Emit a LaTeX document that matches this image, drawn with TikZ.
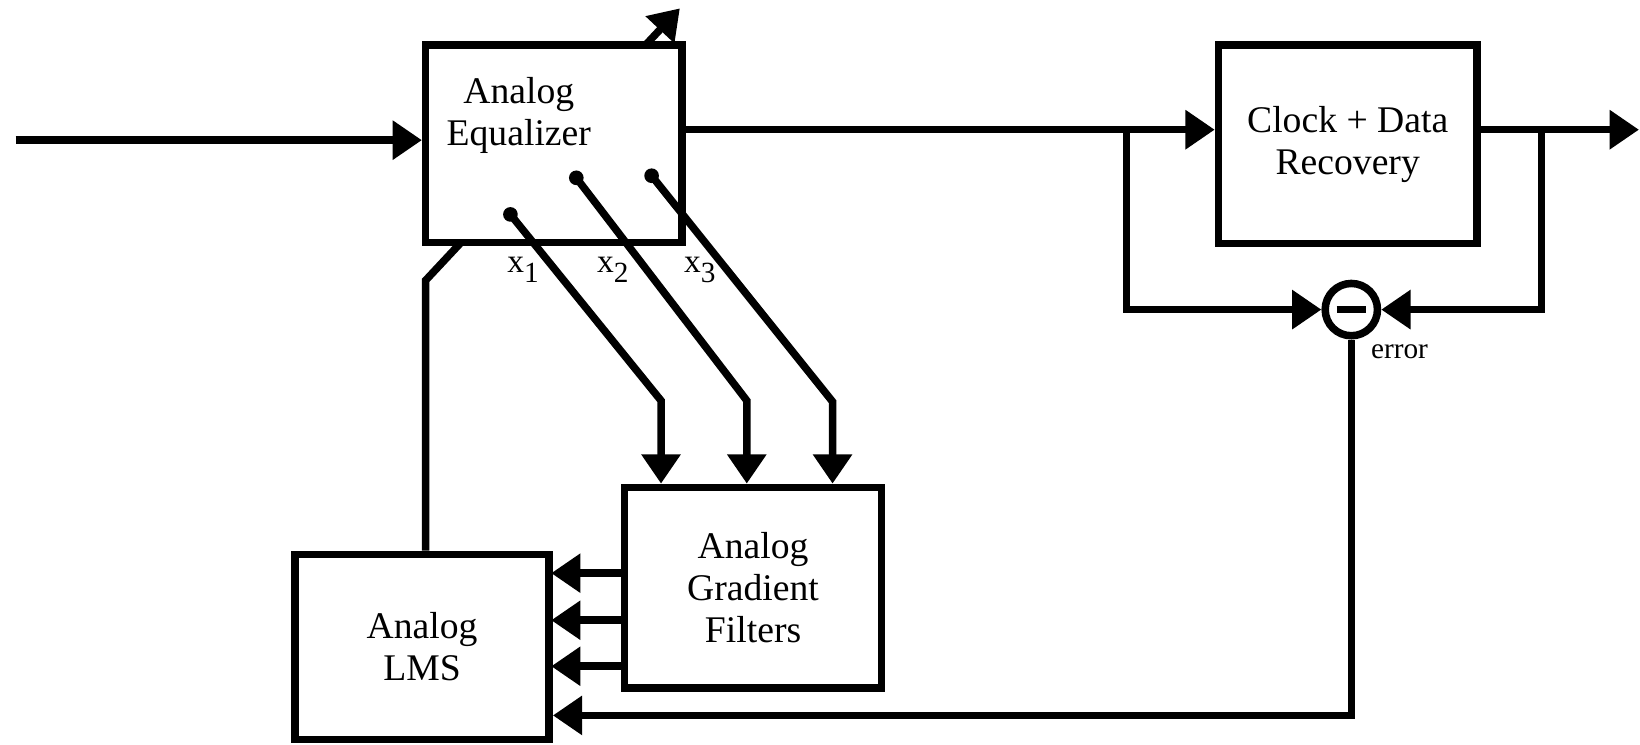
\documentclass[tikz,border=0pt]{standalone}
\usepackage{fontspec}
\setmainfont{Liberation Serif}
\usetikzlibrary{arrows.meta}
\tikzset{
  lw/.style={line width=3.6pt},
  arr/.style={lw, -{Triangle[length=14pt,width=18pt]}},
  blockbox/.style={draw, lw, fill=white, rectangle, inner sep=0pt, align=center,
    font=\fontsize{18}{20}\selectfont},
  tapdot/.style={circle, fill=black, inner sep=0pt, minimum size=7pt},
  sumnode/.style={circle, draw, lw, fill=white, inner sep=0pt, minimum size=25pt},
  lbl/.style={inner sep=0pt, font=\fontsize{16}{18}\selectfont},
  smalllbl/.style={inner sep=0pt, font=\fontsize{14}{16}\selectfont},
}
\newcommand{\subnum}[1]{x\raisebox{-4.8pt}{\fontsize{14}{14}\selectfont #1}}
\begin{document}
\begin{tikzpicture}[x=0.5pt, y=-0.5pt]
\useasboundingbox (0,0) rectangle (1568,712);

% LMS block
\node[blockbox, minimum width=121.5pt, minimum height=88.5pt] (lms) at (403.5,618.5) {Analog\\LMS};

% adjustment arrow through the equalizer (drawn before the box so the box hides it)
\coordinate (a1) at (407,268);
\coordinate (a2) at (650,8);
\draw[arr] (lms.north -| a1) -- (a1) -- (a2);

% Equalizer block
\node[blockbox, minimum width=122.5pt, minimum height=94.5pt] (eq) at (529.5,137.5) {};
\node[blockbox, draw=none, fill=none] (eqtext) at (496,110) {Analog\\Equalizer};

% Clock + data recovery
\node[blockbox, minimum width=123.5pt, minimum height=95pt] (clk) at (1288.5,138) {Clock + Data\\Recovery};

% Gradient filters
\node[blockbox, minimum width=123pt, minimum height=96pt] (grad) at (720,562) {Analog\\Gradient\\Filters};

% summing node
\node[sumnode] (sum) at (1292,296) {};
\draw[line width=3.5pt] ([xshift=-7pt]sum.center) -- ([xshift=7pt]sum.center);
\node[smalllbl] (errlbl) at (1338,336) {error};

% input
\coordinate (in) at (15,134);
\draw[arr] (in) -- (eq.west |- in);

% equalizer output to CDR and branch to summer
\coordinate (b1) at (1077,124);
\draw[arr] (eq.east |- b1) -- (clk.west |- b1);
\draw[arr] (b1) |- (sum.west);

% CDR output and branch
\coordinate (b2) at (1474,124);
\coordinate (out) at (1567,124);
\draw[arr] (clk.east |- b2) -- (out);
\draw[arr] (b2) |- (sum.east);

% error to LMS
\coordinate (c1) at (1292,684);
\draw[arr] (sum.south) -- (c1) -- (lms.east |- c1);

% gradient filters to LMS
\coordinate (g1) at (527,548);
\coordinate (g2) at (527,593);
\coordinate (g3) at (527,637);
\draw[arr] (grad.west |- g1) -- (g1);
\draw[arr] (grad.west |- g2) -- (g2);
\draw[arr] (grad.west |- g3) -- (g3);

% taps
\node[tapdot] (d1) at (488,205) {};
\node[tapdot] (d2) at (551,170) {};
\node[tapdot] (d3) at (623,168) {};
\coordinate (k1) at (632,383);
\coordinate (k2) at (714,383);
\coordinate (k3) at (796,384);
\draw[arr] (d1.center) -- (k1) -- (grad.north -| k1);
\draw[arr] (d2.center) -- (k2) -- (grad.north -| k2);
\draw[arr] (d3.center) -- (k3) -- (grad.north -| k3);

% tap labels
\node[lbl] (x1) at (500,258) {\subnum{1}};
\node[lbl] (x2) at (586,258) {\subnum{2}};
\node[lbl] (x3) at (669,258) {\subnum{3}};
\end{tikzpicture}
\end{document}
